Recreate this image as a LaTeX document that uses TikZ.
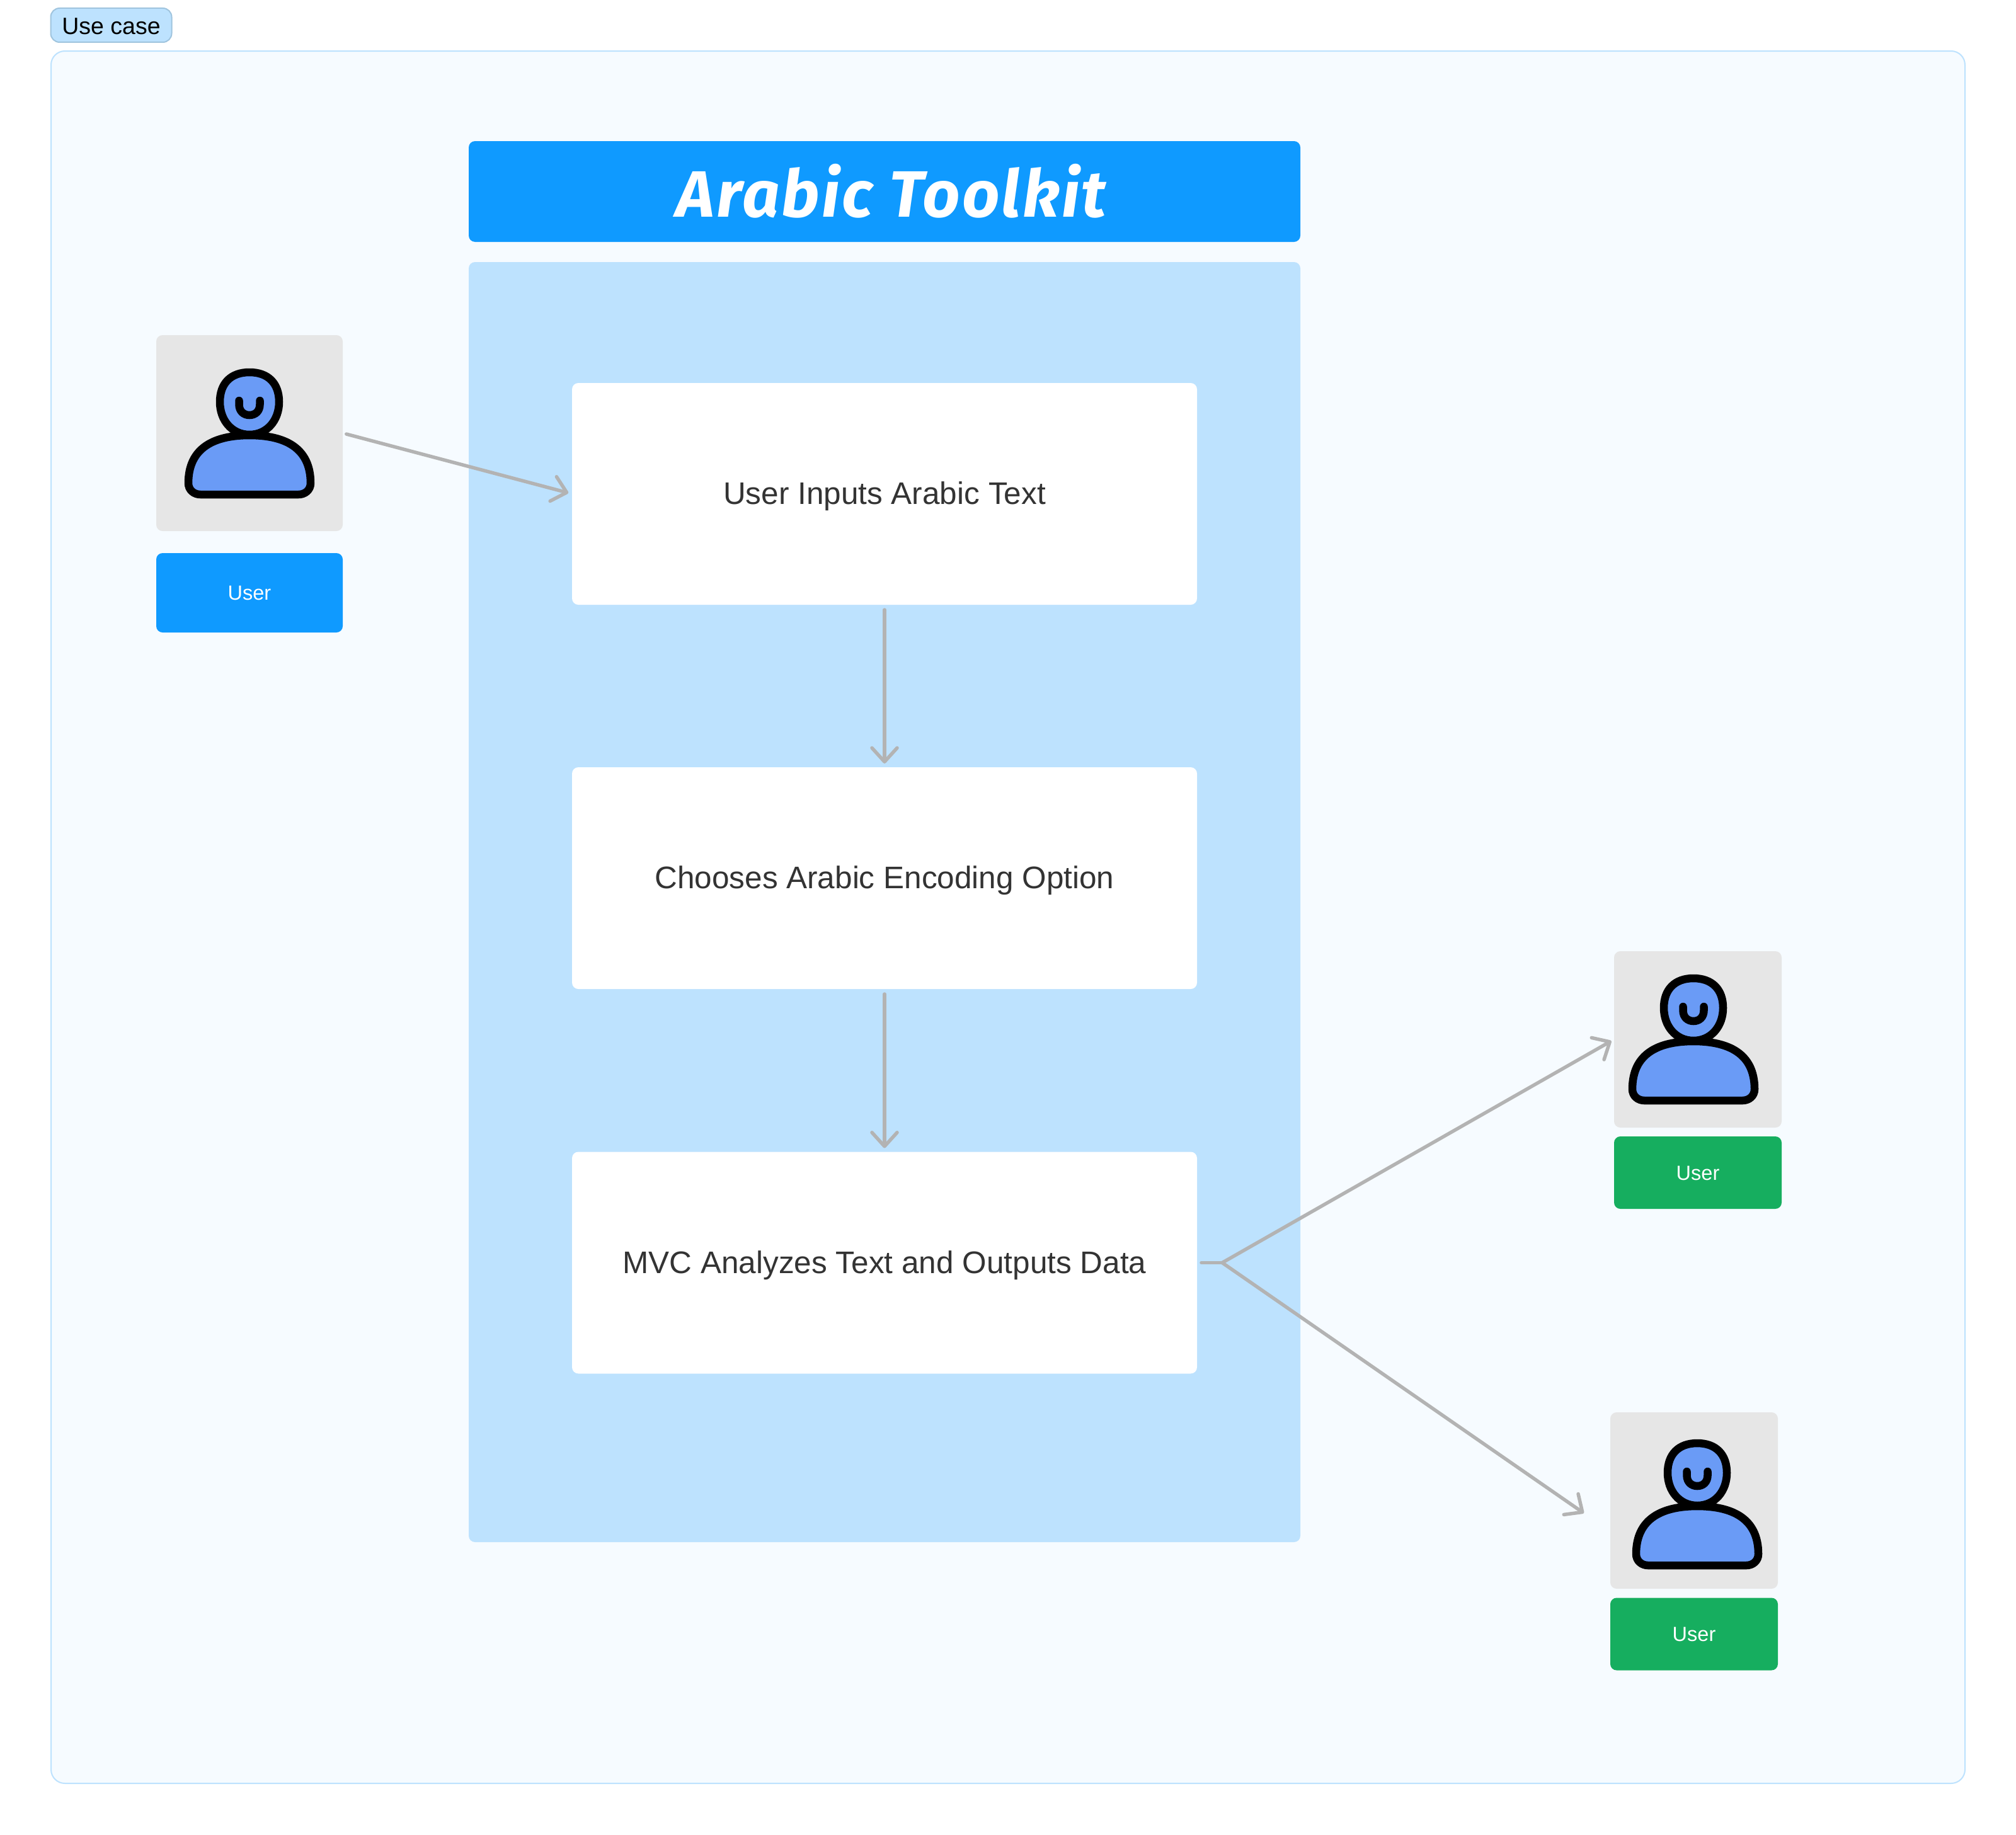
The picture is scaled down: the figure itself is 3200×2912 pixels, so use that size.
\documentclass[tikz,border=0pt]{standalone}
\usepackage{fontspec}
\setsansfont{Liberation Sans}
\newfontfamily\titlefont[LetterSpace=3]{Fira Sans}
\usetikzlibrary{arrows.meta}
\definecolor{framefill}{HTML}{F6FBFF}
\definecolor{paleblue}{HTML}{BDE2FE}
\definecolor{tagborder}{HTML}{9FC4DE}
\definecolor{brandblue}{HTML}{0F9AFF}
\definecolor{tilegray}{HTML}{E6E6E6}
\definecolor{brandgreen}{HTML}{16AE5F}
\definecolor{iconblue}{HTML}{6A9BF6}
\definecolor{linegray}{HTML}{B3B3B3}
\definecolor{bodytext}{HTML}{333333}
\tikzset{
  box/.style={anchor=center, inner sep=0pt, outer sep=0pt, rounded corners=#1},
  box/.default=10pt,
  stepbox/.style={box, fill=white, minimum width=992pt, minimum height=352pt, text=bodytext,
    text height=33pt, text depth=0pt,
    font=\sffamily\fontsize{49.5}{58}\selectfont},
  tile/.style={box, fill=tilegray},
  userlabel/.style={box, text=white, text height=23pt, text depth=0pt,
    font=\sffamily\fontsize{32.5}{38}\selectfont},
  link/.style={draw=linegray, line width=5.5pt, line cap=round, line join=round},
  arrowed/.style={link, -{Straight Barb[length=22pt,width=40pt,round,line width=5.5pt]}},
  pics/usericon/.style={code={
    \draw[fill=iconblue, draw=black, line width=12.5pt, line join=round]
      (0,6) .. controls (30,6) and (47,24) .. (47,53)
      .. controls (47,82) and (28,105) .. (0,105)
      .. controls (-28,105) and (-47,82) .. (-47,53)
      .. controls (-47,24) and (-30,6) .. (0,6) -- cycle;
    \draw[draw=black, line width=12.5pt, line cap=round]
      (-16.5,51) -- (-16.5,57) .. controls (-16.5,68) and (-9,74) .. (0,74)
      .. controls (9,74) and (16.5,68) .. (16.5,57) -- (16.5,51);
    \draw[fill=iconblue, draw=black, line width=12.5pt, line join=round]
      (0,106) .. controls (55,106) and (97,125) .. (97,182)
      .. controls (97,193) and (88,200) .. (78,200) -- (-78,200)
      .. controls (-88,200) and (-97,193) .. (-97,182)
      .. controls (-97,125) and (-55,106) .. (0,106) -- cycle;
  }}
}
\begin{document}
\begin{tikzpicture}[x=1pt,y=-1pt]
\useasboundingbox (0,0) rectangle (3200,2912);
\fill[white] (0,0) rectangle (3200,2912);
% frame and tag
\node[box=22pt, draw=paleblue, line width=2pt, fill=framefill, minimum width=3038pt, minimum height=2750pt] (frame) at (1600,1456) {};
\node[box=14pt, draw=tagborder, line width=2pt, fill=paleblue, minimum width=192pt, minimum height=54pt,
  text height=30pt, text depth=0pt,
  font=\sffamily\fontsize{37.5}{44}\selectfont] (tag) at (176.5,40) {Use case};
% title and panel
\node[box, fill=brandblue, minimum width=1320pt, minimum height=160pt, text=white,
  text height=80pt, text depth=0pt,
  font=\titlefont\bfseries\itshape\fontsize{104}{120}\selectfont] (title) at (1404,304) {\hspace*{22pt}Arabic Toolkit};
\node[box, fill=paleblue, minimum width=1320pt, minimum height=2032pt] (panel) at (1404,1432) {};
% steps
\node[stepbox] (s1) at (1404,784) {User Inputs Arabic Text};
\node[stepbox] (s2) at (1404,1394) {Chooses Arabic Encoding Option};
\node[stepbox] (s3) at (1404,2004.5) {MVC Analyzes Text and Outputs Data};
% user on the left
\node[tile, minimum width=296pt, minimum height=311pt] (u1) at (396,687.5) {};
\pic at (396,585) {usericon};
\node[userlabel, fill=brandblue, minimum width=296pt, minimum height=126pt] (l1) at (396,941) {User};
% user at right, top
\node[tile, minimum width=266pt, minimum height=280pt] (u2) at (2695,1650) {};
\pic at (2688,1547) {usericon};
\node[userlabel, fill=brandgreen, minimum width=266pt, minimum height=115pt] (l2) at (2695,1861.5) {User};
% user at right, bottom
\node[tile, minimum width=266pt, minimum height=280pt] (u3) at (2689,2382) {};
\pic at (2694,2285) {usericon};
\node[userlabel, fill=brandgreen, minimum width=266pt, minimum height=115pt] (l3) at (2689,2594) {User};
% connectors
\coordinate (fork) at (1940,2004.5);
\coordinate (end3) at (2514,2402);
\draw[arrowed, shorten <=6pt, shorten >=6pt] (u1.east) -- (s1.west);
\draw[arrowed, shorten <=8pt, shorten >=6pt] (s1.south) -- (s2.north);
\draw[arrowed, shorten <=8pt, shorten >=6pt] (s2.south) -- (s3.north);
\draw[link, shorten <=7pt] (s3.east) -- (fork);
\draw[arrowed, shorten >=5pt] (fork) -- (u2.west);
\draw[arrowed] (fork) -- (end3);
\end{tikzpicture}
\end{document}
